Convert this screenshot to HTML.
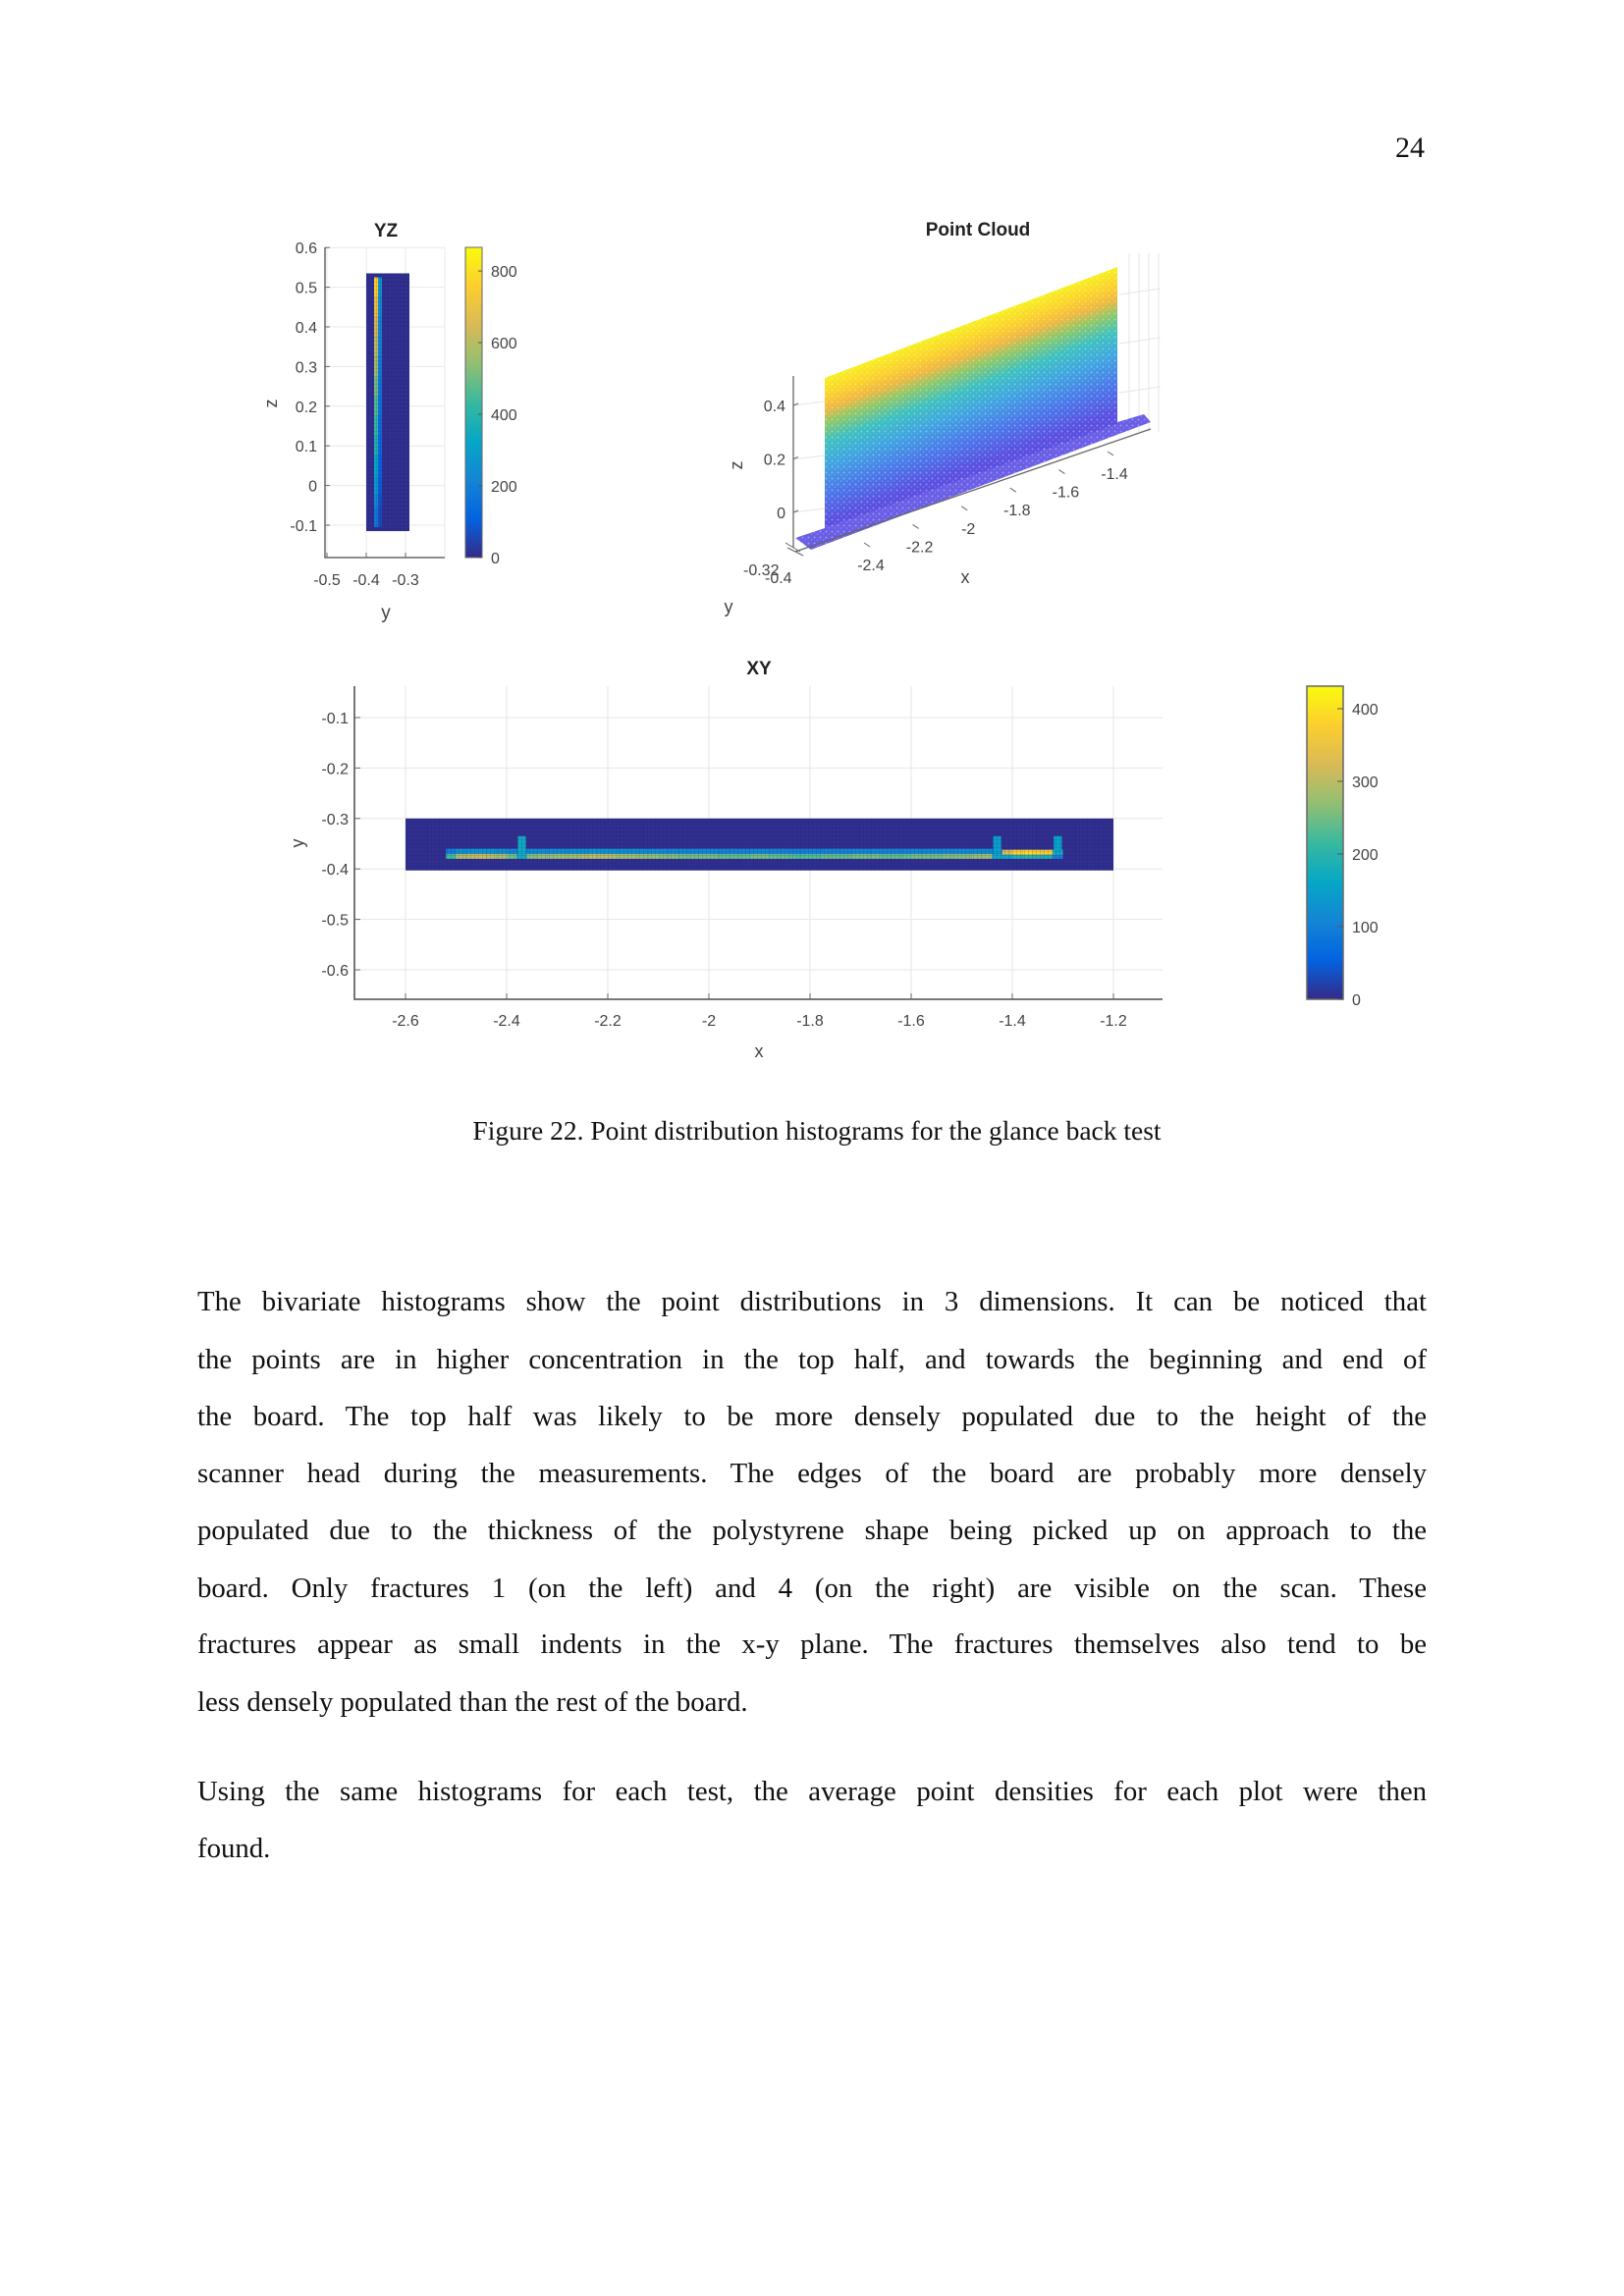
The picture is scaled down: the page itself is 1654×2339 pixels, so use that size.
<!DOCTYPE html>
<html><head><meta charset="utf-8">
<style>
html,body{margin:0;padding:0;background:#fff;}
body{width:1654px;height:2339px;position:relative;overflow:hidden;font-family:"Liberation Serif",serif;color:#111;}
.ln{position:absolute;left:201px;width:1252px;font-size:28.8px;line-height:36px;text-align:justify;text-align-last:justify;white-space:nowrap;}
.ln.last{text-align-last:left;}
svg text{font-family:"Liberation Sans",sans-serif;}
</style></head>
<body>
<div style="position:absolute;left:1421px;top:134px;font-size:30px;">24</div>

<svg id="fig" width="1654" height="1120" style="position:absolute;left:0;top:0">
<defs>
<linearGradient id="parula" x1="0" y1="1" x2="0" y2="0">
<stop offset="0" stop-color="#352a87"/><stop offset="0.125" stop-color="#0363e1"/><stop offset="0.25" stop-color="#1485d4"/><stop offset="0.375" stop-color="#06a7c6"/><stop offset="0.5" stop-color="#38b99e"/><stop offset="0.625" stop-color="#92bf73"/><stop offset="0.75" stop-color="#d9ba56"/><stop offset="0.875" stop-color="#fcce2e"/><stop offset="1" stop-color="#f9fb0e"/>
</linearGradient>
<linearGradient id="wallgrad" gradientUnits="userSpaceOnUse" x1="0" y1="851" x2="0" y2="703" gradientTransform="skewY(-20.76)">
<stop offset="0" stop-color="#5a4fe0"/><stop offset="0.2" stop-color="#4a78ea"/><stop offset="0.4" stop-color="#3fa6e0"/><stop offset="0.55" stop-color="#3dc0c0"/><stop offset="0.68" stop-color="#8cc86a"/><stop offset="0.78" stop-color="#f0b840"/><stop offset="0.88" stop-color="#fcd22a"/><stop offset="1" stop-color="#f7f020"/>
</linearGradient>
<pattern id="speck" width="6" height="6" patternUnits="userSpaceOnUse"><circle cx="1.5" cy="1.5" r="1" fill="#fff" opacity="0.35"/><circle cx="4.5" cy="4" r="0.8" fill="#fff" opacity="0.25"/></pattern>
<pattern id="cellgrid" width="4" height="4" patternUnits="userSpaceOnUse"><path d="M4 0V4H0" fill="none" stroke="#1a1a70" stroke-width="0.6"/></pattern>
</defs>
<g id="yz"></g><g id="pc"></g><g id="xy"></g>
</svg>

<div style="position:absolute;left:0;width:1664px;top:1136px;text-align:center;font-size:27.5px;">Figure 22. Point distribution histograms for the glance back test</div>

<div>
<div class="ln" style="top:1308px">The bivariate histograms show the point distributions in 3 dimensions. It can be noticed that</div>
<div class="ln" style="top:1367px">the points are in higher concentration in the top half, and towards the beginning and end of</div>
<div class="ln" style="top:1425px">the board. The top half was likely to be more densely populated due to the height of the</div>
<div class="ln" style="top:1483px">scanner head during the measurements. The edges of the board are probably more densely</div>
<div class="ln" style="top:1541px">populated due to the thickness of the polystyrene shape being picked up on approach to the</div>
<div class="ln" style="top:1600px">board. Only fractures 1 (on the left) and 4 (on the right) are visible on the scan. These</div>
<div class="ln" style="top:1657px">fractures appear as small indents in the x-y plane. The fractures themselves also tend to be</div>
<div class="ln last" style="top:1716px">less densely populated than the rest of the board.</div>
</div>
<div>
<div class="ln" style="top:1807px">Using the same histograms for each test, the average point densities for each plot were then</div>
<div class="ln last" style="top:1865px">found.</div>
</div>

<script>
// ---- YZ histogram data ----
const yzZTicks = [0.6,0.5,0.4,0.3,0.2,0.1,0,-0.1];
const yzZLabels = ["0.6","0.5","0.4","0.3","0.2","0.1","0","-0.1"];
const yzYTicks = [-0.5,-0.4,-0.3];
const yzYLabels = ["-0.5","-0.4","-0.3"];
const yzZCenters = [0.5,0.45,0.4,0.35,0.3,0.25,0.2,0.15,0.1,0.05,0,-0.05,-0.08];
const yzValues = [760,700,640,600,560,500,460,420,380,330,280,230,180];
const yzCbTicks = [0,200,400,600,800];
// ---- XY histogram data ----
const xyXTicks = [-2.6,-2.4,-2.2,-2,-1.8,-1.6,-1.4,-1.2];
const xyXLabels = ["-2.6","-2.4","-2.2","-2","-1.8","-1.6","-1.4","-1.2"];
const xyYTicks = [-0.1,-0.2,-0.3,-0.4,-0.5,-0.6];
const xyYLabels = ["-0.1","-0.2","-0.3","-0.4","-0.5","-0.6"];
const xyLineX = [-2.51,-2.49,-2.47,-2.45,-2.43,-2.41,-2.39,-2.37,-2.35,-2.33,-2.31,-2.29,-2.27,-2.25,-2.23,-2.21,-2.19,-2.17,-2.15,-2.13,-2.11,-2.09,-2.07,-2.05,-2.03,-2.01,-1.99,-1.97,-1.95,-1.93,-1.91,-1.89,-1.87,-1.85,-1.83,-1.81,-1.79,-1.77,-1.75,-1.73,-1.71,-1.69,-1.67,-1.65,-1.63,-1.61,-1.59,-1.57,-1.55,-1.53,-1.51,-1.49,-1.47,-1.45,-1.43];
const xyLineV = [220,290,300,310,300,290,250,180,260,270,270,280,280,290,300,300,290,280,280,270,270,260,260,250,250,250,250,240,240,240,250,250,240,240,230,230,230,240,240,240,250,250,250,240,240,240,250,250,250,260,260,260,270,280,170];
const xyRightX = [-1.41,-1.39,-1.37,-1.35,-1.33,-1.31];
const xyRightV = [330,380,390,380,370,200];
const xySpikeX = [-2.37,-1.43,-1.31];
const xySpikeV = [170,150,160];
const xyCbTicks = [0,100,200,300,400];
// ---- Point cloud axes ----
const pcXTicks = [-2.4,-2.2,-2,-1.8,-1.6,-1.4];
const pcXLabels = ["-2.4","-2.2","-2","-1.8","-1.6","-1.4"];
const pcZTicks = [0.4,0.2,0];
const pcZLabels = ["0.4","0.2","0"];

const NS="http://www.w3.org/2000/svg";
function mk(parent,tag,attrs,text){const e=document.createElementNS(NS,tag);for(const k in attrs)e.setAttribute(k,attrs[k]);if(text!==undefined)e.textContent=text;parent.appendChild(e);return e;}
const stops=[[0,[53,42,135]],[0.125,[3,99,225]],[0.25,[20,133,212]],[0.375,[6,167,198]],[0.5,[56,185,158]],[0.625,[146,191,115]],[0.75,[217,186,86]],[0.875,[252,206,46]],[1,[249,251,14]]];
function parula(t){t=Math.max(0,Math.min(1,t));for(let i=1;i<stops.length;i++){if(t<=stops[i][0]){const a=stops[i-1],b=stops[i];const f=(t-a[0])/(b[0]-a[0]);const c=a[1].map((v,j)=>Math.round(v+(b[1][j]-v)*f));return `rgb(${c})`;}}return "rgb(249,251,14)";}
const TXT={fill:"#444","font-size":"16"};

// ===== YZ =====
(function(){
const g=document.getElementById('yz');
const sx=v=>373+(v+0.4)*400, sz=v=>535-(v+0.1)*404;
const L=331,B=568,R=453,T=252;
yzYTicks.concat([-0.2]).forEach(v=>{const l=mk(g,'line',{x1:sx(v),x2:sx(v),y1:T,y2:B,stroke:"#e8e8e8"});});
yzZTicks.forEach(v=>{const l=mk(g,'line',{x1:L,x2:R,y1:sz(v),y2:sz(v),stroke:"#e8e8e8"});});
const bg=mk(g,'rect',{x:sx(-0.4),y:sz(0.535),width:sx(-0.29)-sx(-0.4),height:sz(-0.115)-sz(0.535),fill:parula(0.01)});

yzZCenters.forEach((z,i)=>{const top=sz(z+0.025),bot=sz(z-0.025);
 const c=mk(g,'rect',{x:sx(-0.38),y:top,width:sx(-0.37)-sx(-0.38),height:bot-top,fill:parula(yzValues[i]/866)});
 
 const c2=mk(g,'rect',{x:sx(-0.37),y:top,width:sx(-0.36)-sx(-0.37),height:bot-top,fill:parula(yzValues[i]*0.35/866)});
 
});
mk(g,'rect',{x:sx(-0.4),y:sz(0.535),width:sx(-0.29)-sx(-0.4),height:sz(-0.115)-sz(0.535),fill:"url(#cellgrid)",opacity:0.5});
mk(g,'path',{d:`M${L} ${T}V${B}H${R}`,stroke:"#666",fill:"none","stroke-width":1.5});
yzZTicks.forEach((v,i)=>{mk(g,'line',{x1:L,x2:L+5,y1:sz(v),y2:sz(v),stroke:"#666"});
 const t=mk(g,'text',Object.assign({x:323,y:sz(v)+6,"text-anchor":"end"},TXT),yzZLabels[i]);});
yzYTicks.forEach((v,i)=>{mk(g,'line',{x1:sx(v),x2:sx(v),y1:B,y2:B-5,stroke:"#666"});
 const t=mk(g,'text',Object.assign({x:sx(v),y:596,"text-anchor":"middle"},TXT),yzYLabels[i]);});
const tt=mk(g,'text',{x:393,y:241,"text-anchor":"middle","font-size":"19","font-weight":"bold",fill:"#222"},"YZ");
const xl=mk(g,'text',Object.assign({x:393,y:630,"text-anchor":"middle"},TXT,{"font-size":"19"}),"y");
const zl=mk(g,'text',Object.assign({x:0,y:0,"text-anchor":"middle",transform:"translate(282,411) rotate(-90)"},TXT,{"font-size":"18"}),"z");
const cT=252,cB=568,cmax=866;
const cb=mk(g,'rect',{x:474,y:cT,width:17,height:cB-cT,fill:"url(#parula)",stroke:"#666","stroke-width":1});
yzCbTicks.forEach(v=>{const y=cB-v/cmax*(cB-cT);mk(g,'line',{x1:487,x2:491,y1:y,y2:y,stroke:"#555"});
 const t=mk(g,'text',Object.assign({x:500,y:y+6},TXT),String(v));});
})();

// ===== Point cloud =====
(function(){
const g=document.getElementById('pc');
[1150,1160,1170,1180].forEach(x=>mk(g,'line',{x1:x,x2:x,y1:258,y2:440,stroke:"#e4e4e4"}));
[300,350,400].forEach(y=>mk(g,'line',{x1:1140,x2:1182,y1:y,y2:y-6,stroke:"#e4e4e4"}));
[413,468,522].forEach(y=>mk(g,'line',{x1:808,x2:840,y1:y,y2:y-4,stroke:"#e4e4e4"}));
const base=mk(g,'polygon',{points:"810,548 840,538 1138,430 1165,422 1172,430 826,560",fill:"#6a5ee6"});

const wall=mk(g,'polygon',{points:"840,385 1138,272 1138,432 840,538",fill:"url(#wallgrad)"});

mk(g,'polygon',{points:"840,385 1138,272 1138,432 840,538",fill:"url(#speck)"});
mk(g,'polygon',{points:"810,548 840,538 1138,430 1165,422 1172,430 826,560",fill:"url(#speck)"});
mk(g,'line',{x1:808,y1:383,x2:808,y2:558,stroke:"#666","stroke-width":1.3});
mk(g,'line',{x1:810,y1:562,x2:1172,y2:437,stroke:"#666","stroke-width":1.3});
mk(g,'line',{x1:800,y1:553,x2:815,y2:562,stroke:"#666"});
mk(g,'line',{x1:802,y1:558,x2:818,y2:566,stroke:"#666"});
const zpx=v=>522-v*272.5;
pcZTicks.forEach((v,i)=>{mk(g,'line',{x1:808,x2:813,y1:zpx(v),y2:zpx(v)-2,stroke:"#666"});
 const t=mk(g,'text',Object.assign({x:800,y:zpx(v)+6,"text-anchor":"end"},TXT),pcZLabels[i]);});
const xp=v=>[887+(v+2.4)*248,575-(v+2.4)*93];
pcXTicks.forEach((v,i)=>{const p=xp(v);mk(g,'line',{x1:p[0]-7,y1:p[1]-22,x2:p[0]-1,y2:p[1]-18,stroke:"#666"});
 const t=mk(g,'text',Object.assign({x:p[0],y:p[1]+6,"text-anchor":"middle"},TXT),pcXLabels[i]);});
const t1=mk(g,'text',Object.assign({x:757,y:586},TXT),"-0.32");
const t2=mk(g,'text',Object.assign({x:779,y:594},TXT),"-0.4");
const xt=mk(g,'text',Object.assign({x:983,y:594,"text-anchor":"middle"},TXT,{"font-size":"18"}),"x");
const yt=mk(g,'text',Object.assign({x:742,y:624,"text-anchor":"middle"},TXT,{"font-size":"18"}),"y");
const zt=mk(g,'text',Object.assign({x:0,y:0,"text-anchor":"middle",transform:"translate(756,474) rotate(-90)"},TXT,{"font-size":"18"}),"z");
const tt=mk(g,'text',{x:996,y:240,"text-anchor":"middle","font-size":"19","font-weight":"bold",fill:"#222"},"Point Cloud");
})();

// ===== XY =====
(function(){
const g=document.getElementById('xy');
const fx=v=>413+(v+2.6)*515, fy=v=>731+(-0.1-v)*514;
const L=361,B=1018,R=1184,T=699,cmax=431;
xyXTicks.forEach(v=>{const l=mk(g,'line',{x1:fx(v),x2:fx(v),y1:T,y2:B,stroke:"#e6e6e6"});});
xyYTicks.forEach(v=>{const l=mk(g,'line',{x1:L,x2:R,y1:fy(v),y2:fy(v),stroke:"#e6e6e6"});});
const bg=mk(g,'rect',{x:fx(-2.6),y:fy(-0.3),width:fx(-1.2)-fx(-2.6),height:fy(-0.403)-fy(-0.3),fill:parula(0.01)});

const w=fx(-2.58)-fx(-2.6);
xyLineX.forEach((x,i)=>{
 const c=mk(g,'rect',{x:fx(x-0.01),y:fy(-0.37),width:w,height:fy(-0.38)-fy(-0.37),fill:parula(xyLineV[i]/cmax)});
 
 const c2=mk(g,'rect',{x:fx(x-0.01),y:fy(-0.36),width:w,height:fy(-0.37)-fy(-0.36),fill:parula(xyLineV[i]*0.45/cmax)});
 
});
xyRightX.forEach((x,i)=>{
 const c=mk(g,'rect',{x:fx(x-0.01),y:fy(-0.362),width:w,height:fy(-0.372)-fy(-0.362),fill:parula(xyRightV[i]/cmax)});
 
 const c2=mk(g,'rect',{x:fx(x-0.01),y:fy(-0.372),width:w,height:fy(-0.38)-fy(-0.372),fill:parula(xyRightV[i]*0.5/cmax)});
 
});
xySpikeX.forEach((x,i)=>{
 const c=mk(g,'rect',{x:fx(x-0.008),y:fy(-0.335),width:fx(-2.584)-fx(-2.6),height:fy(-0.37)-fy(-0.335),fill:parula(xySpikeV[i]/cmax)});
 
});
mk(g,'rect',{x:fx(-2.6),y:fy(-0.3),width:fx(-1.2)-fx(-2.6),height:fy(-0.403)-fy(-0.3),fill:"url(#cellgrid)",opacity:0.5});
mk(g,'path',{d:`M${L} ${T}V${B}H${R}`,stroke:"#666",fill:"none","stroke-width":1.8});
xyYTicks.forEach((v,i)=>{mk(g,'line',{x1:L,x2:L+6,y1:fy(v),y2:fy(v),stroke:"#666"});
 const t=mk(g,'text',Object.assign({x:355,y:fy(v)+6,"text-anchor":"end"},TXT),xyYLabels[i]);});
xyXTicks.forEach((v,i)=>{mk(g,'line',{x1:fx(v),x2:fx(v),y1:B,y2:B-6,stroke:"#666"});
 const t=mk(g,'text',Object.assign({x:fx(v),y:1045,"text-anchor":"middle"},TXT),xyXLabels[i]);});
const tt=mk(g,'text',{x:773,y:687,"text-anchor":"middle","font-size":"19","font-weight":"bold",fill:"#222"},"XY");
const xl=mk(g,'text',Object.assign({x:773,y:1077,"text-anchor":"middle"},TXT,{"font-size":"18"}),"x");
const yl=mk(g,'text',Object.assign({x:0,y:0,"text-anchor":"middle",transform:"translate(309,859) rotate(-90)"},TXT,{"font-size":"18"}),"y");
const cT=699,cB=1018;
const cb=mk(g,'rect',{x:1331,y:cT,width:37,height:cB-cT,fill:"url(#parula)",stroke:"#666","stroke-width":1.5});
xyCbTicks.forEach(v=>{const y=cB-v/cmax*(cB-cT);mk(g,'line',{x1:1362,x2:1368,y1:y,y2:y,stroke:"#555"});
 const t=mk(g,'text',Object.assign({x:1377,y:y+6},TXT),String(v));});
})();
</script>
</body></html>
